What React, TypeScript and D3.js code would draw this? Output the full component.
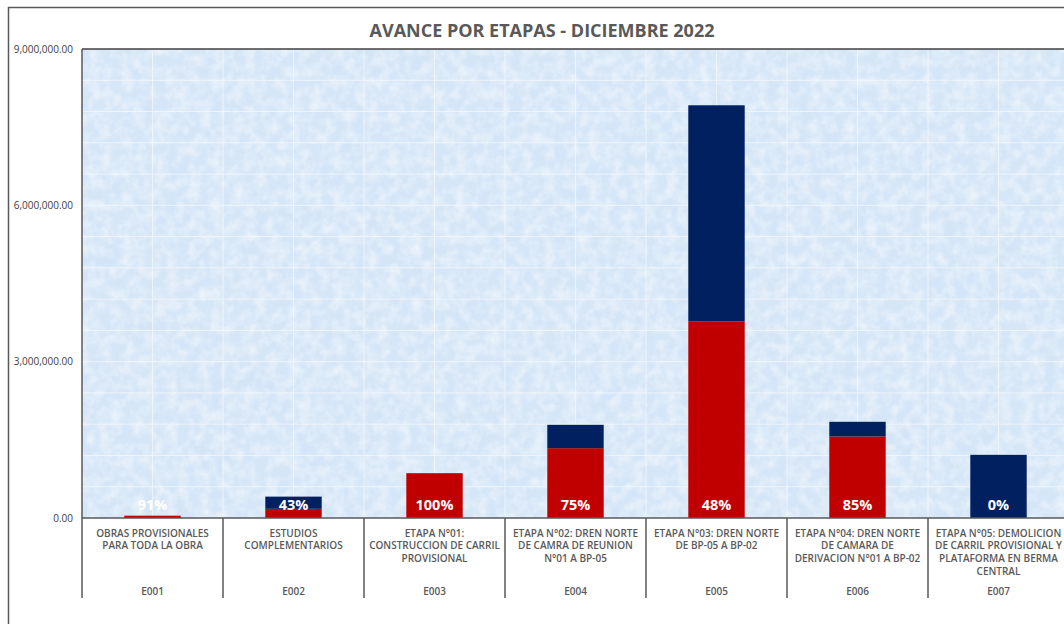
import React from "react";
import * as d3 from "d3";

const codes = ["E001", "E002", "E003", "E004", "E005", "E006", "E007"];
const categoryLines: string[][] = [
  ["OBRAS PROVISIONALES", "PARA TODA LA OBRA"],
  ["ESTUDIOS", "COMPLEMENTARIOS"],
  ["ETAPA N°01:", "CONSTRUCCION DE CARRIL", "PROVISIONAL"],
  ["ETAPA N°02: DREN NORTE", "DE CAMRA DE REUNION", "N°01 A BP-05"],
  ["ETAPA N°03: DREN NORTE", "DE BP-05 A BP-02"],
  ["ETAPA N°04: DREN NORTE", "DE CAMARA DE", "DERIVACION N°01 A BP-02"],
  ["ETAPA N°05: DEMOLICION", "DE CARRIL PROVISIONAL Y", "PLATAFORMA EN BERMA", "CENTRAL"],
];
const ejecutado = [40000, 176000, 860000, 1340000, 3770000, 1565000, 0];
const saldo = [4000, 234000, 0, 448000, 4150000, 281000, 1212000];
const pctLabels = ["91%", "43%", "100%", "75%", "48%", "85%", "0%"];
const yTicks = [0, 3000000, 6000000, 9000000];
const title = "AVANCE POR ETAPAS - DICIEMBRE 2022";

const RED = "#C00000";
const NAVY = "#002060";
const FONT = "'Open Sans', 'DejaVu Sans', sans-serif";

export default function App() {
  const left = 82;
  const top = 49;
  const bottom = 518;
  const step = 141;
  const right = left + step * codes.length;
  const axisBottom = 598;

  const x = d3.scaleBand<string>().domain(codes).range([left, right]).paddingInner(0.6).paddingOuter(0.3);
  const xOuter = d3.scaleBand<string>().domain(codes).range([left, right]).padding(0);
  const y = d3.scaleLinear().domain([0, 9000000]).range([bottom, top]);
  const fmt = d3.format(",.2f");
  const minor = d3.range(600000, 9000000, 600000);

  const stack = d3.stack<number>().keys(["ejecutado", "saldo"]).value((i: number, k: string) => (k === "ejecutado" ? ejecutado[i] : saldo[i]));
  const series = stack(d3.range(codes.length));
  const colors = [RED, NAVY];

  const vLines: number[] = [];
  codes.forEach((c) => {
    const x0 = xOuter(c)!;
    vLines.push(x0 + xOuter.bandwidth() / 2, x0 + xOuter.bandwidth());
  });

  return (
    <svg width={1064} height={624} style={{ position: "absolute", left: 0, top: 0, background: "#fff" }}>
      <defs>
        <filter id="tex" x="0" y="0" width="100%" height="100%">
          <feTurbulence type="fractalNoise" baseFrequency="0.09" numOctaves={3} seed={4} result="n" />
          <feColorMatrix in="n" type="matrix" values="0 0 0 0 1  0 0 0 0 1  0 0 0 0 1  1.3 0 0 0 -0.45" />
        </filter>
        <filter id="tex2" x="0" y="0" width="100%" height="100%">
          <feTurbulence type="fractalNoise" baseFrequency="0.025" numOctaves={2} seed={9} result="n" />
          <feColorMatrix in="n" type="matrix" values="0 0 0 0 0.55  0 0 0 0 0.72  0 0 0 0 0.92  0 1.2 0 0 -0.5" />
        </filter>
        <clipPath id="plotClip">
          <rect x={left} y={top} width={right - left} height={bottom - top} />
        </clipPath>
      </defs>

      <rect x={8.5} y={7.5} width={1100} height={700} fill="#fff" stroke="#595959" strokeWidth={1.5} />

      <text x={542} y={37} textAnchor="middle" fontFamily={FONT} fontWeight={700} fontSize={18} fill="#595959">
        {title}
      </text>

      <g clipPath="url(#plotClip)">
        <rect x={left} y={top} width={right - left} height={bottom - top} fill="#d5e6f7" />
        <rect x={left} y={top} width={right - left} height={bottom - top} filter="url(#tex2)" opacity={0.3} />
        <rect x={left} y={top} width={right - left} height={bottom - top} filter="url(#tex)" opacity={0.75} />
        {minor.map((v) => (
          <line key={"h" + v} x1={left} x2={right} y1={y(v)} y2={y(v)} stroke="#f4f8fd" strokeOpacity={0.8} strokeWidth={1} />
        ))}
        {vLines.map((vx, i) => (
          <line key={"v" + i} x1={vx} x2={vx} y1={top} y2={bottom} stroke="#f4f8fd" strokeOpacity={0.8} strokeWidth={1} />
        ))}
      </g>

      {series.map((s, si) => (
        <g key={si} fill={colors[si]}>
          {s.map((d, i) => {
            const h = y(d[0]) - y(d[1]);
            if (h <= 0) return null;
            return <rect key={i} x={x(codes[i])} y={y(d[1])} width={x.bandwidth()} height={h} />;
          })}
        </g>
      ))}

      {pctLabels.map((p, i) => (
        <text
          key={"p" + i}
          x={x(codes[i])! + x.bandwidth() / 2}
          y={y(0) - 8}
          textAnchor="middle"
          fontFamily={FONT}
          fontWeight={700}
          fontSize={14.5}
          fill="#fff"
        >
          {p}
        </text>
      ))}

      <line x1={left} x2={right + 20} y1={top} y2={top} stroke="#404040" strokeWidth={1.5} />
      <line x1={left} x2={left} y1={top} y2={axisBottom} stroke="#595959" strokeWidth={1.5} />
      <line x1={left} x2={right + 20} y1={bottom} y2={bottom} stroke="#595959" strokeWidth={1.5} />
      {codes.map((c) => {
        const xe = xOuter(c)! + xOuter.bandwidth();
        return <line key={"d" + c} x1={xe} x2={xe} y1={bottom} y2={axisBottom} stroke="#595959" strokeWidth={1.5} />;
      })}

      {yTicks.map((t) => (
        <text key={"t" + t} x={73} y={y(t)} dy="0.35em" textAnchor="end" fontFamily={FONT} fontSize={10} fill="#404040">
          {fmt(t)}
        </text>
      ))}

      {codes.map((c, i) => {
        const cx = xOuter(c)! + xOuter.bandwidth() / 2;
        return (
          <g key={"c" + c} fontFamily={FONT} fontWeight={600} fontSize={10} fill="#595959" textAnchor="middle">
            {categoryLines[i].map((ln, j) => (
              <text key={j} x={cx} y={533 + j * 12.8} dy="0.35em">
                {ln}
              </text>
            ))}
            <text x={cx} y={591} dy="0.35em">
              {c}
            </text>
          </g>
        );
      })}
    </svg>
  );
}
